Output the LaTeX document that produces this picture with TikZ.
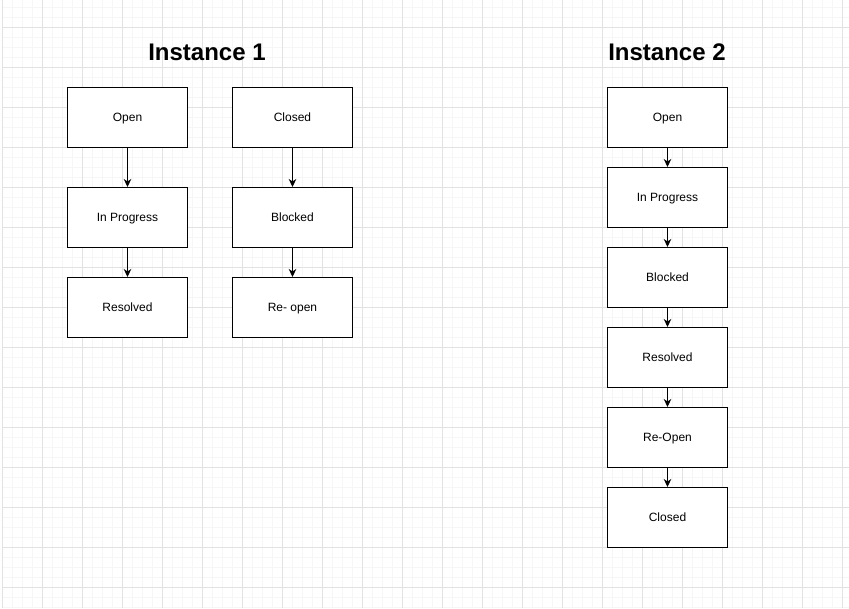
\documentclass[tikz,border=0pt]{standalone}
\usepackage{fontspec}
\setmainfont{Liberation Sans}
\usepackage{xcolor}
\usetikzlibrary{arrows.meta}
\definecolor{gridminor}{HTML}{F6F6F6}
\definecolor{gridmajor}{HTML}{E2E2E2}

\begin{document}
\begin{tikzpicture}[x=1pt, y=-1pt,
  state/.style={draw, line width=1pt, fill=white, minimum width=120pt, minimum height=60pt, inner sep=0pt, text height=9.4pt, text depth=1.4pt, font=\fontsize{12}{14}\selectfont},
  title/.style={font=\fontsize{24}{28}\selectfont\bfseries},
  flow/.style={-{Stealth[length=8pt, width=7.5pt, inset=2.5pt]}, line width=1pt}]
\useasboundingbox (0,0) rectangle (849,608);
\fill[white] (0,0) rectangle (849,608);
% background grid
\foreach \x in {12.7,22.7,...,849} \draw[gridminor, line width=0.8pt] (\x,0) -- (\x,608);
\foreach \y in {7,17,...,608} \draw[gridminor, line width=0.8pt] (2.7,\y) -- (849,\y);
\foreach \x in {2.7,42.7,...,849} \draw[gridmajor, line width=1pt] (\x,0) -- (\x,608);
\foreach \y in {27,67,...,608} \draw[gridmajor, line width=1pt] (2.7,\y) -- (849,\y);

\node[title] (title1) at (207,52) {Instance 1};
\node[title] (title2) at (667,52) {Instance 2};

% instance 1
\node[state] (open1) at (127.5,117.5) {Open};
\node[state] (prog1) at (127.5,217.5) {In Progress};
\node[state] (res1) at (127.5,307.5) {Resolved};
\node[state] (closed1) at (292.5,117.5) {Closed};
\node[state] (block1) at (292.5,217.5) {Blocked};
\node[state] (reopen1) at (292.5,307.5) {Re- open};
\draw[flow] (open1) -- (prog1);
\draw[flow] (prog1) -- (res1);
\draw[flow] (closed1) -- (block1);
\draw[flow] (block1) -- (reopen1);

% instance 2
\node[state] (open2) at (667.5,117.5) {Open};
\node[state] (prog2) at (667.5,197.5) {In Progress};
\node[state] (block2) at (667.5,277.5) {Blocked};
\node[state] (res2) at (667.5,357.5) {Resolved};
\node[state] (reopen2) at (667.5,437.5) {Re-Open};
\node[state] (closed2) at (667.5,517.5) {Closed};
\draw[flow] (open2) -- (prog2);
\draw[flow] (prog2) -- (block2);
\draw[flow] (block2) -- (res2);
\draw[flow] (res2) -- (reopen2);
\draw[flow] (reopen2) -- (closed2);
\end{tikzpicture}
\end{document}
